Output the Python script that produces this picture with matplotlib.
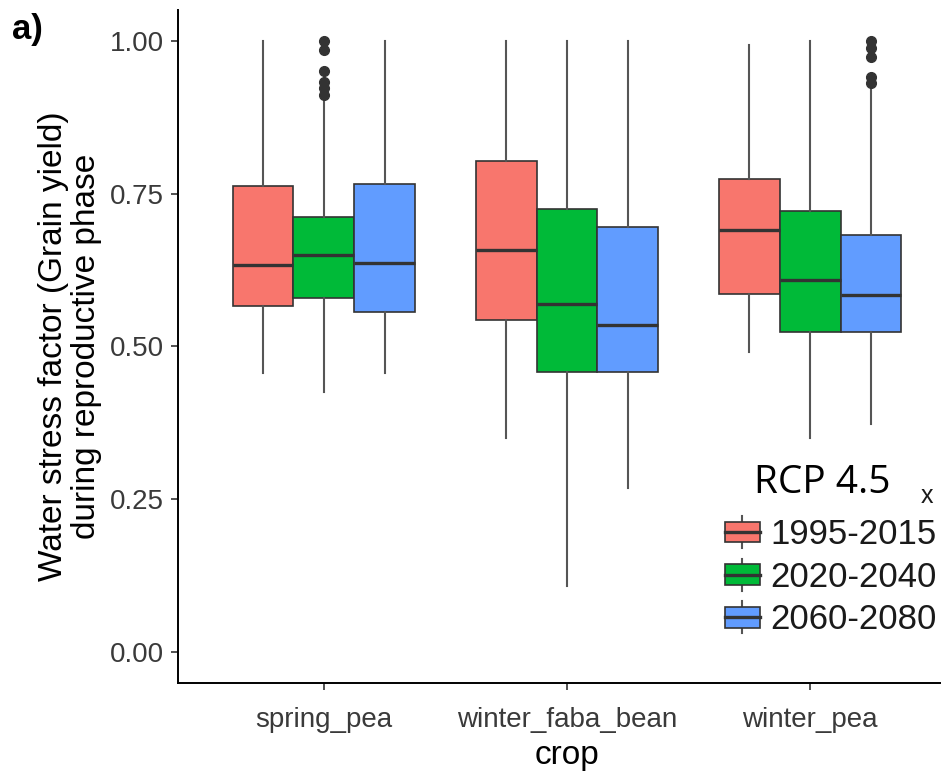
import matplotlib
matplotlib.use('Agg')
import matplotlib.pyplot as plt
from matplotlib.patches import Rectangle
from matplotlib.lines import Line2D
from matplotlib.legend_handler import HandlerBase

crops = ['spring_pea', 'winter_faba_bean', 'winter_pea']
periods = ['1995-2015', '2020-2040', '2060-2080']
colors = ['#F8766D', '#00BA38', '#619CFF']

# per period, values for each crop (spring_pea, winter_faba_bean, winter_pea)
whislo_1995 = [0.456, 0.350, 0.491]
q1_1995 = [0.566, 0.544, 0.585]
med_1995 = [0.634, 0.658, 0.690]
q3_1995 = [0.763, 0.804, 0.774]
whishi_1995 = [1.000, 1.000, 0.992]

whislo_2020 = [0.426, 0.108, 0.351]
q1_2020 = [0.580, 0.459, 0.524]
med_2020 = [0.649, 0.570, 0.608]
q3_2020 = [0.712, 0.724, 0.721]
whishi_2020 = [0.905, 1.000, 1.000]

whislo_2060 = [0.456, 0.268, 0.373]
q1_2060 = [0.556, 0.459, 0.524]
med_2060 = [0.637, 0.535, 0.584]
q3_2060 = [0.765, 0.695, 0.682]
whishi_2060 = [1.000, 1.000, 0.925]

fliers_2020_spring_pea = [1.000, 0.984, 0.951, 0.933, 0.922, 0.911]
fliers_2060_winter_pea = [1.000, 0.988, 0.973, 0.940, 0.930]

series = {
    '1995-2015': (whislo_1995, q1_1995, med_1995, q3_1995, whishi_1995, [[], [], []]),
    '2020-2040': (whislo_2020, q1_2020, med_2020, q3_2020, whishi_2020, [fliers_2020_spring_pea, [], []]),
    '2060-2080': (whislo_2060, q1_2060, med_2060, q3_2060, whishi_2060, [[], [], fliers_2060_winter_pea]),
}

plt.rcParams['font.family'] = ['Liberation Sans', 'DejaVu Sans']

W, H = 941, 778
fig = plt.figure(figsize=(W / 100, H / 100), dpi=100)
ax_left, ax_right_px, ax_top, ax_bot = 178, 956, 10, 683
ax = fig.add_axes([ax_left / W, 1 - ax_bot / H, (ax_right_px - ax_left) / W, (ax_bot - ax_top) / H])

dark = '#333333'
offsets = [-0.25, 0.0, 0.25]
for k, p in enumerate(periods):
    lo, q1, md, q3, hi, fl = series[p]
    stats = []
    for i in range(len(crops)):
        stats.append(dict(whislo=lo[i], q1=q1[i], med=md[i], q3=q3[i], whishi=hi[i], fliers=fl[i]))
    pos = [i + 1 + offsets[k] for i in range(len(crops))]
    ax.bxp(stats, positions=pos, widths=0.25, patch_artist=True, showcaps=False,
           boxprops=dict(facecolor=colors[k], edgecolor=dark, linewidth=1.2),
           medianprops=dict(color=dark, linewidth=2.4, solid_capstyle='butt'),
           whiskerprops=dict(color='#555555', linewidth=1.5),
           flierprops=dict(marker='o', markerfacecolor=dark, markeredgecolor=dark, markersize=7),
           manage_ticks=False, zorder=2)

ax.set_xlim(0.4, 3.6)
ax.set_ylim(-0.05, 1.05)
ax.set_xticks([1, 2, 3])
ax.set_xticklabels(crops)
ax.set_yticks([0, 0.25, 0.5, 0.75, 1.0])
ax.set_yticklabels(['0.00', '0.25', '0.50', '0.75', '1.00'])
for s in ['top', 'right']:
    ax.spines[s].set_visible(False)
for s in ['left', 'bottom']:
    ax.spines[s].set_linewidth(1.4)
    ax.spines[s].set_color('black')
ax.tick_params(axis='both', labelsize=20, colors='#333333', length=5, width=1.2)
ax.tick_params(axis='x', pad=12)
ax.tick_params(axis='y', pad=5)
ax.tick_params(axis='both', labelcolor='#3a3a3a')
ax.set_xlabel('crop', fontsize=24, labelpad=5)
ax.set_ylabel('Water stress factor (Grain yield)\nduring reproductive phase', fontsize=24, labelpad=6, linespacing=1.08)

fig.text(12 / W, 1 - 39 / H, 'a)', fontsize=25, fontweight='bold', ha='left', va='baseline')


class BoxHandler(HandlerBase):
    def create_artists(self, legend, orig_handle, xdescent, ydescent, width, height, fontsize, trans):
        fc = orig_handle.get_facecolor()
        bh = height * 0.64
        y0 = -ydescent + (height - bh) / 2
        x0 = -xdescent
        rect = Rectangle((x0, y0), width, bh, facecolor=fc, edgecolor=dark, linewidth=1.2, transform=trans)
        cx = x0 + width / 2
        w1 = Line2D([cx, cx], [y0 + bh, -ydescent + height], color='#555555', linewidth=1.5, transform=trans)
        w2 = Line2D([cx, cx], [-ydescent, y0], color='#555555', linewidth=1.5, transform=trans)
        m = Line2D([x0, x0 + width], [y0 + bh / 2] * 2, color=dark, linewidth=2.4, transform=trans)
        return [w1, w2, rect, m]


handles = [Rectangle((0, 0), 1, 1, facecolor=c) for c in colors]
leg = fig.legend(handles, periods, handler_map={Rectangle: BoxHandler()}, loc='upper left',
                 bbox_to_anchor=(725 / W, 1 - 516 / H), frameon=False, fontsize=25,
                 handlelength=1.0, handleheight=1.05, labelspacing=0.22, handletextpad=0.3,
                 borderpad=0, borderaxespad=0)
for t in leg.get_texts():
    t.set_color('#1a1a1a')

fig.text(754 / W, 1 - 493 / H, 'RCP 4.5', fontsize=28, family=['Open Sans', 'DejaVu Sans'],
         ha='left', va='baseline', color='black')
fig.text(921 / W, 1 - 503 / H, 'x', fontsize=18, ha='left', va='baseline', color='#1a1a1a')

fig.savefig('out.png', dpi=100)
